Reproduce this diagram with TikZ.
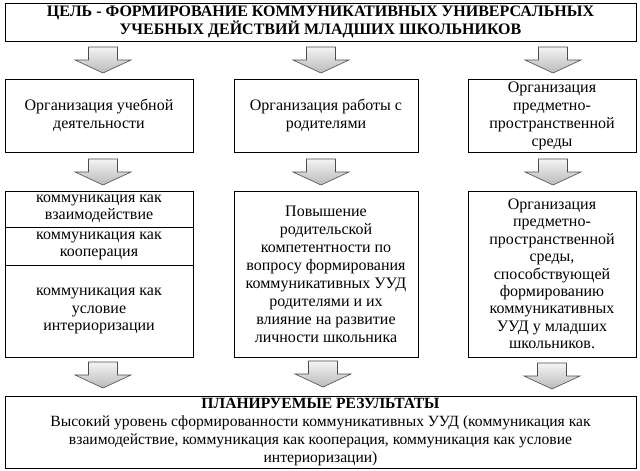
\documentclass[tikz,border=0pt]{standalone}
\usepackage{fontspec}
\setmainfont{Liberation Serif}
\begin{document}
\begin{tikzpicture}[x=1pt,y=-1pt,
  box/.style={draw=black,line width=0.8pt,align=center,inner sep=0pt,
    font=\fontsize{16}{18}\selectfont},
  cell/.style={box,minimum width=188,font=\fontsize{16}{17.3}\selectfont},
  arrowfill/.style={draw=gray!60!black,line width=0.6pt,top color=gray!8,bottom color=gray!55},
  barrow/.pic={\path[arrowfill] (-14.5,0) -- (14.5,0) -- (14.5,13) -- (28,13)
     -- (0,26) -- (-28,13) -- (-14.5,13) -- cycle;}]
\useasboundingbox (0,0) rectangle (640,471);
% top
\node[box,minimum width=631,minimum height=38] (goal) at (320.5,22)
  {\bfseries ЦЕЛЬ - ФОРМИРОВАНИЕ КОММУНИКАТИВНЫХ УНИВЕРСАЛЬНЫХ\\\bfseries УЧЕБНЫХ ДЕЙСТВИЙ МЛАДШИХ ШКОЛЬНИКОВ};
% row 1
\node[box,minimum width=188,minimum height=73] (l1) at (99,115.5)
  {Организация учебной\\деятельности};
\node[box,minimum width=184,minimum height=73] (m1) at (326,115.5)
  {Организация работы с\\родителями};
\node[box,minimum width=168,minimum height=73] (r1) at (552,115.5)
  {Организация\\предметно-\\пространственной\\среды};
% row 2
\node[cell,minimum height=36] (l2a) at (99,209)
  {коммуникация как\\взаимодействие};
\node[cell,minimum height=38] (l2b) at (99,246)
  {коммуникация как\\кооперация};
\node[cell,minimum height=92] (l2c) at (99,311)
  {коммуникация как\\условие\\интериоризации};
\node[box,minimum width=184,minimum height=166] (m2) at (326,274)
  {Повышение\\родительской\\компетентности по\\вопросу формирования\\коммуникативных УУД\\родителями и их\\влияние на развитие\\личности школьника};
\node[box,minimum width=168,minimum height=166,font=\fontsize{16}{17.4}\selectfont] (r2) at (552,274)
  {Организация\\предметно-\\пространственной\\среды,\\способствующей\\формированию\\коммуникативных\\УУД у младших\\школьников.};
% bottom
\node[box,minimum width=631,minimum height=72,font=\fontsize{15.6}{17.7}\selectfont] (res) at (320.5,432)
  {\bfseries ПЛАНИРУЕМЫЕ РЕЗУЛЬТАТЫ\\Высокий уровень сформированности коммуникативных УУД (коммуникация как\\взаимодействие, коммуникация как кооперация, коммуникация как условие\\интериоризации)};
% block arrows
\pic at (103,47) {barrow};
\pic at (321,47) {barrow};
\pic at (553,47) {barrow};
\pic at (103,159) {barrow};
\pic at (321,159) {barrow};
\pic at (553,159) {barrow};
\pic at (103,362) {barrow};
\pic at (323,361) {barrow};
\pic at (552,363) {barrow};
\end{tikzpicture}
\end{document}
